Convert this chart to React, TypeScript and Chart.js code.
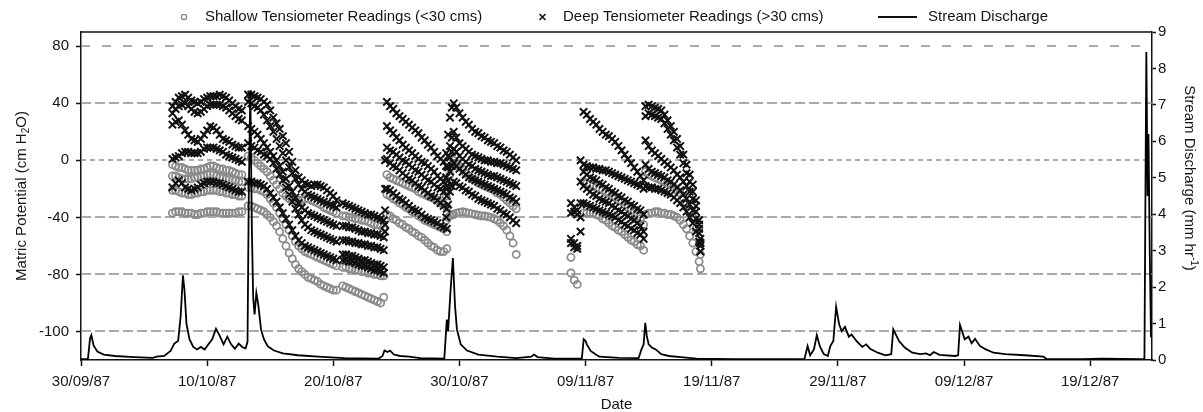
import React, { useEffect, useRef } from 'react';
import { Chart, registerables } from 'chart.js';

Chart.register(...registerables);

// ---------- tick labels ----------
const dateTickDays = [0, 10, 20, 30, 40, 50, 60, 70, 80];
const dateTickLabels = ['30/09/87', '10/10/87', '20/10/87', '30/10/87', '09/11/87', '19/11/87', '29/11/87', '09/12/87', '19/12/87'];
const leftTickValues = [80, 40, 0, -40, -80, -120];
const leftTickLabels = ['80', '40', '0', '-40', '-80', '-100'];
const rightTickValues = [0, 1, 2, 3, 4, 5, 6, 7, 8, 9];
const legendLabels = ['Shallow Tensiometer Readings (<30 cms)', 'Deep Tensiometer Readings (>30 cms)', 'Stream Discharge'];

// ---------- tensiometer readings (days since 30/09/87, cm H2O) ----------
const daysA = [7.25, 7.5, 7.75, 8.0, 8.25, 8.5, 8.75, 9.0, 9.25, 9.5, 9.75, 10.0, 10.25, 10.5, 10.75, 11.0, 11.25, 11.5, 11.75, 12.0, 12.25, 12.5, 12.75];
const deepA = [
  [38, 41, 44, 45, 46, 44, 42, 41, 40, 41, 43, 44, 45, 45, 45, 46, 45, 44, 42, 40, 38, 36, 35],
  [33, 36, 38, 39, 40, 38, 36, 34, 33, 34, 36, 38, 39, 39, 39, 39, 38, 37, 35, 33, 31, 29, 28],
  [25, 27, 28, 25, 21, 18, 15, 14, 13, 15, 18, 21, 24, 23, 21, 18, 15, 14, 13, 11, 10, 9, 9],
  [1, 2, 3, 5, 6, 6, 5, 5, 5, 6, 8, 9, 9, 9, 8, 7, 6, 4, 3, 2, 1, 0, -1],
  [-19, -16, -14, -16, -19, -20, -21, -20, -19, -17, -16, -15, -15, -15, -16, -16, -17, -18, -19, -20, -21, -22, -22],
];
const shallowA = [
  [-3, -4, -5, -5, -6, -7, -7, -7, -7, -6, -6, -5, -4, -4, -5, -6, -6, -7, -7, -8, -9, -10, -10],
  [-11, -11, -12, -13, -13, -13, -13, -12, -12, -11, -11, -10, -10, -10, -11, -12, -12, -13, -13, -14, -14, -15, -15],
  [-21, -21, -22, -23, -23, -24, -24, -23, -23, -22, -22, -21, -21, -21, -21, -22, -22, -23, -23, -24, -24, -25, -25],
  [-37, -36, -36, -36, -37, -37, -37, -38, -38, -37, -37, -36, -36, -36, -36, -37, -37, -37, -37, -37, -37, -36, -36],
];

const daysB = [13.25, 13.5, 13.75, 14.0, 14.25, 14.5, 14.75, 15.0, 15.25, 15.5, 15.75, 16.0, 16.25, 16.5, 16.75, 17.0, 17.25, 17.5, 17.75, 18.0, 18.25, 18.5, 18.75, 19.0, 19.25, 19.5, 19.75, 20.0, 20.25];
const deepB = [
  [46, 46, 45, 44, 43, 41, 39, 35, 30, 26, 22, 17, 12, 6, -1, -7, -12, -14, -16, -17, -18, -17, -17, -18, -19, -21, -23, -25, -28],
  [41, 40, 38, 37, 35, 32, 28, 24, 20, 15, 10, 5, 0, -5, -9, -13, -17, -20, -22, -24, -25, -26, -27, -28, -29, -30, -31, -32, -33],
  [24, 22, 20, 18, 15, 12, 9, 6, 3, 0, -4, -8, -13, -18, -22, -26, -30, -33, -35, -37, -38, -39, -40, -41, -42, -43, -44, -45, -46],
  [12, 10, 9, 7, 6, 4, 3, 1, -2, -6, -10, -14, -19, -24, -29, -34, -38, -42, -45, -47, -49, -50, -51, -52, -53, -54, -55, -56, -57],
  [-15, -15, -16, -16, -17, -18, -20, -23, -26, -29, -33, -37, -41, -45, -49, -53, -56, -58, -60, -61, -62, -63, -64, -65, -66, -67, -68, -69, -70],
];
const shallowB = [
  [3, 2, 0, -2, -4, -6, -8, -11, -14, -17, -20, -23, -25, -27, -28, -28, -28, -28, -27, -27, -28, -29, -30, -31, -33, -34, -35, -36, -37],
  [-19, -19, -20, -20, -21, -22, -24, -27, -30, -33, -37, -41, -45, -49, -53, -57, -60, -62, -64, -65, -66, -67, -68, -69, -70, -71, -72, -73, -74],
  [-32, -32, -33, -34, -35, -36, -38, -40, -43, -46, -50, -55, -60, -65, -69, -73, -76, -78, -80, -82, -83, -84, -85, -87, -88, -89, -90, -91, -91],
];

const daysC = [20.75, 21.0, 21.25, 21.5, 21.75, 22.0, 22.25, 22.5, 22.75, 23.0, 23.25, 23.5, 23.75, 24.0];
const deepC = [
  [-30, -31, -32, -33, -34, -35, -36, -37, -38, -38, -39, -40, -41, -42],
  [-46, -46, -47, -47, -48, -49, -50, -50, -51, -51, -52, -52, -53, -54],
  [-56, -56, -57, -57, -58, -58, -59, -59, -60, -60, -61, -61, -62, -63],
  [-66, -66, -67, -67, -68, -69, -70, -70, -71, -72, -73, -73, -74, -75],
  [-70, -70, -71, -71, -72, -73, -74, -74, -75, -76, -77, -77, -78, -79],
];
const shallowC = [
  [-39, -39, -40, -40, -41, -41, -42, -42, -43, -44, -45, -45, -46, -47],
  [-75, -75, -76, -76, -77, -77, -78, -78, -79, -79, -80, -80, -81, -81],
  [-88, -89, -90, -91, -92, -93, -94, -95, -96, -97, -98, -99, -100, -96],
];

const daysD = [24.1, 24.25, 24.5, 24.75, 25.0, 25.25, 25.5, 25.75, 26.0, 26.25, 26.5, 26.75, 27.0, 27.25, 27.5, 27.75, 28.0, 28.25, 28.5, 28.75, 29.0];
const deepD = [
  [0, 41, 38, 36, 33, 31, 29, 27, 25, 23, 21, 19, 16, 14, 11, 9, 6, 3, 1, -1, -4],
  [-20, 24, 21, 19, 16, 14, 11, 9, 7, 5, 3, 1, -1, -2, -4, -6, -8, -11, -13, -15, -18],
  [-35, 9, 7, 6, 4, 2, 0, -1, -3, -5, -7, -8, -10, -12, -14, -15, -17, -19, -20, -22, -25],
  [-45, 1, -2, -4, -5, -7, -9, -11, -13, -14, -16, -18, -19, -21, -23, -25, -26, -28, -30, -32, -34],
  [-50, -20, -21, -23, -25, -27, -28, -30, -32, -34, -35, -36, -38, -40, -41, -42, -43, -44, -46, -47, -48],
];
const shallowD = [
  [null, -10, -12, -13, -14, -15, -16, -17, -18, -19, -20, -22, -23, -24, -25, -26, -27, -28, -30, -31, -33],
  [null, -24, -25, -27, -28, -30, -31, -33, -34, -36, -37, -39, -40, -42, -43, -44, -45, -46, -47, -48, -50],
  [null, -38, -39, -41, -42, -44, -45, -47, -48, -50, -51, -53, -54, -56, -58, -60, -61, -63, -64, -64, -62],
];

const daysE = [28.95, 29.1, 29.25, 29.4, 29.55, 29.75, 30.0, 30.25, 30.5, 30.75, 31.0, 31.25, 31.5, 31.75, 32.0, 32.25, 32.5, 32.75, 33.0, 33.25, 33.5, 33.75, 34.0, 34.25, 34.5];
const deepE = [
  [5, 18, 30, 37, 40, 37, 33, 30, 27, 25, 22, 20, 19, 17, 16, 14, 13, 12, 10, 9, 7, 6, 4, 2, 0],
  [-4, 3, 10, 16, 20, 16, 12, 10, 8, 6, 4, 3, 2, 1, 0, 0, -1, -1, -2, -2, -3, -4, -5, -6, -7],
  [-12, -5, 2, 6, 8, 6, 3, 1, -1, -3, -4, -6, -7, -8, -9, -10, -11, -11, -12, -13, -14, -15, -16, -17, -18],
  [-20, -14, -8, -4, -2, -4, -6, -8, -10, -12, -13, -14, -15, -16, -17, -18, -19, -20, -21, -22, -23, -24, -26, -27, -29],
  [-40, -31, -22, -18, -15, -16, -18, -19, -21, -22, -24, -25, -27, -28, -29, -30, -31, -32, -34, -35, -37, -38, -40, -42, -44],
];
const shallowE = [
  [-25, -18, -10, -4, 0, -2, -4, -6, -9, -11, -13, -14, -16, -17, -18, -19, -20, -21, -23, -24, -26, -28, -30, -32, -34],
  [-42, -40, -39, -38, -38, -37, -36.5, -36, -36.5, -37, -37.5, -38, -38.5, -39, -39, -39.5, -40, -41, -42, -44, -46, -49, -53, -58, -66],
];

const daysF = [38.84, 39.1, 39.34, 39.6, 39.84, 40.1, 40.35, 40.6, 40.85, 41.1, 41.35, 41.6, 41.85, 42.1, 42.35, 42.6, 42.85, 43.1, 43.35, 43.6, 43.85, 44.1, 44.35, 44.6];
const deepF = [
  [-30, -33, -35, 0, 34, 32, 29, 27, 25, 22, 20, 18, 17, 15, 13, 10, 7, 4, 1, -2, -5, -8, -11, -14],
  [-37, -36, -38, -15, -3, -4, -5, -5, -6, -6, -7, -7, -8, -9, -10, -11, -12, -13, -14, -15, -16, -17, -18, -20],
  [-55, -58, -60, -30, -8, -10, -12, -13, -14, -16, -17, -19, -20, -22, -23, -25, -26, -28, -29, -31, -32, -34, -35, -38],
  [-58, -61, -62, -40, -18, -20, -22, -24, -25, -27, -28, -29, -30, -32, -33, -35, -36, -38, -39, -41, -42, -44, -46, -50],
  [null, null, null, -50, -30, -31, -32, -33, -34, -35, -36, -37, -38, -39, -40, -42, -43, -45, -46, -48, -49, -51, -52, -55],
];
const shallowF = [
  [null, null, null, null, -15, -16, -17, -18, -19, -20, -21, -22, -23, -25, -26, -28, -29, -31, -33, -35, -37, -39, -41, -45],
  [-68, null, null, null, null, null, null, null, null, null, null, null, null, null, null, null, null, null, null, null, null, null, null, null],
  [-79, -84, -87, null, -37, -37, -37, -37, -38, -39, -41, -42, -44, -46, -47, -49, -50, -52, -54, -56, -57, -59, -60, -63],
];

const daysG = [44.75, 45.0, 45.25, 45.5, 45.75, 46.0, 46.25, 46.5, 46.75, 47.0, 47.25, 47.5, 47.75, 48.0, 48.25, 48.5, 48.75, 49.0, 49.1];
const deepG = [
  [38, 39, 38, 37, 36, 35, 32, 28, 24, 20, 15, 10, 4, -3, -10, -17, -28, -42, -55],
  [31, 33, 32, 31, 30, 29, 26, 22, 18, 14, 9, 4, -2, -9, -15, -22, -32, -45, -58],
  [14, 10, 7, 5, 3, 1, -1, -3, -5, -7, -10, -12, -15, -18, -22, -27, -36, -48, -58],
  [-3, -6, -8, -9, -10, -11, -12, -14, -15, -17, -19, -21, -24, -27, -31, -35, -41, -51, -60],
  [-18, -19, -19, -20, -20, -21, -22, -23, -24, -26, -28, -30, -33, -36, -40, -44, -50, -57, -64],
];
const shallowG = [
  [-8, -10, -11, -12, -13, -14, -15, -16, -17, -19, -21, -23, -26, -30, -35, -40, -48, -58, -66],
  [-38, -37, -37, -36, -36, -37, -37, -38, -38, -39, -40, -42, -45, -48, -53, -58, -64, -71, -76],
];

// ---------- stream discharge (days since 30/09/87, mm/hr) ----------
const dischargeDays = [
  0, 0.55, 0.72, 0.82, 1.0, 1.3, 1.8, 2.7, 4.2, 5.7, 6.0, 6.6, 7.1, 7.4, 7.7, 7.9, 8.08, 8.2, 8.36, 8.6,
  8.9, 9.2, 9.5, 9.8, 10.1, 10.4, 10.7, 11.0, 11.3, 11.6, 11.9, 12.2, 12.5, 12.8, 13.05, 13.2, 13.3, 13.42, 13.55, 13.65,
  13.76, 13.9, 14.06, 14.27, 14.5, 14.8, 15.3, 16.0, 17.2, 18.8, 20.9, 23.6, 23.9, 24.06, 24.3, 24.5, 24.8, 25.3, 26.0, 26.9,
  28.8, 29.0, 29.1, 29.3, 29.48, 29.65, 29.8, 30.1, 30.6, 31.5, 33.0, 34.5, 35.7, 35.9, 36.2, 37.5, 39.7, 39.85, 40.0, 40.1,
  40.4, 40.9, 41.1, 42.65, 44.2, 44.43, 44.6, 44.73, 44.85, 45.0, 45.25, 45.56, 46.0, 46.6, 47.55, 48.8, 51.8, 54.9, 57.35, 57.6,
  57.8, 58.1, 58.33, 58.57, 58.88, 59.2, 59.4, 59.64, 59.86, 60.1, 60.3, 60.56, 60.87, 61.08, 61.48, 61.94, 62.24, 62.55, 63.16, 63.77,
  64.23, 64.39, 64.85, 65.3, 65.9, 66.53, 66.99, 67.3, 67.6, 68.06, 69.28, 69.53, 69.68, 70.05, 70.35, 70.6, 70.87, 71.27, 71.73, 72.34,
  73.26, 74.8, 76.3, 76.57, 79.4, 80.9, 84.0, 84.3, 84.45, 84.55, 84.62, 84.72, 84.82, 84.9,
];
const dischargeValues = [
  0.02, 0.03, 0.6, 0.68, 0.4, 0.23, 0.15, 0.11, 0.08, 0.06, 0.09, 0.11, 0.25, 0.45, 0.52, 1.2, 2.32, 1.93, 1.0, 0.57,
  0.36, 0.29, 0.36, 0.29, 0.43, 0.57, 0.86, 0.66, 0.43, 0.64, 0.43, 0.31, 0.45, 0.35, 0.32, 0.5, 4.5, 7.4, 3.5, 1.7,
  1.25, 1.84, 1.5, 0.84, 0.57, 0.38, 0.26, 0.18, 0.13, 0.09, 0.05, 0.04, 0.11, 0.26, 0.22, 0.26, 0.15, 0.11, 0.09, 0.05,
  0.04, 1.11, 0.79, 1.93, 2.8, 1.48, 0.84, 0.43, 0.26, 0.15, 0.09, 0.05, 0.09, 0.15, 0.08, 0.04, 0.04, 0.57, 0.52, 0.43,
  0.25, 0.13, 0.09, 0.06, 0.05, 0.29, 0.43, 1.02, 0.66, 0.43, 0.34, 0.29, 0.16, 0.11, 0.08, 0.04, 0.02, 0.02, 0.03, 0.38,
  0.13, 0.29, 0.68, 0.38, 0.16, 0.11, 0.38, 0.52, 1.46, 0.98, 0.79, 0.91, 0.64, 0.7, 0.52, 0.36, 0.43, 0.31, 0.2, 0.13,
  0.16, 0.84, 0.52, 0.34, 0.2, 0.16, 0.18, 0.13, 0.22, 0.14, 0.11, 0.13, 0.96, 0.57, 0.64, 0.46, 0.58, 0.38, 0.29, 0.2,
  0.16, 0.13, 0.09, 0.02, 0.02, 0.04, 0.02, 0.03, 8.45, 4.5, 6.2, 3.0, 0.65, 0.6,
];

// ---------- styling ----------
const FONT = '"Liberation Sans", Arial, Helvetica, sans-serif';
const TEXT = '#151515';
const SHALLOW_COLOR = '#8a8a8a';
const GRID_COLOR = '#8f8f8f';
const gridDashes = [[9, 12], [10, 4], [5, 4], [10, 4], [10, 4], [10, 4]];

type Block = { days: number[]; deep: (number | null)[][]; shallow: (number | null)[][] };

function collect(blocks: Block[], key: 'deep' | 'shallow') {
  const pts: { x: number; y: number }[] = [];
  blocks.forEach((b) => {
    b[key].forEach((trace) => {
      trace.forEach((v, i) => {
        if (v !== null && v !== undefined) pts.push({ x: b.days[i], y: v });
      });
    });
  });
  return pts;
}

function drawRich(ctx: CanvasRenderingContext2D, parts: { t: string; size: number; dy: number }[]) {
  let total = 0;
  parts.forEach((p) => {
    ctx.font = `${p.size}px ${FONT}`;
    total += ctx.measureText(p.t).width;
  });
  let x = -total / 2;
  parts.forEach((p) => {
    ctx.font = `${p.size}px ${FONT}`;
    ctx.fillText(p.t, x, p.dy);
    x += ctx.measureText(p.t).width;
  });
}

const decorPlugin = {
  id: 'decor',
  beforeDatasetsDraw(chart: any) {
    const { ctx, chartArea: a, scales } = chart;
    const y = scales.y;
    ctx.save();
    ctx.strokeStyle = GRID_COLOR;
    ctx.lineWidth = 1.6;
    leftTickValues.forEach((v, i) => {
      const py = Math.round(y.getPixelForValue(v));
      ctx.setLineDash(gridDashes[i]);
      ctx.beginPath();
      ctx.moveTo(a.left, py);
      ctx.lineTo(a.right, py);
      ctx.stroke();
    });
    ctx.restore();
  },
  afterDraw(chart: any) {
    const { ctx, chartArea: a } = chart;
    ctx.save();
    ctx.strokeStyle = '#111';
    ctx.lineWidth = 1.5;
    ctx.beginPath();
    ctx.moveTo(a.left, a.top);
    ctx.lineTo(a.right, a.top);
    ctx.stroke();

    ctx.fillStyle = TEXT;
    ctx.textBaseline = 'middle';
    ctx.textAlign = 'left';

    ctx.save();
    ctx.translate(22, (a.top + a.bottom) / 2);
    ctx.rotate(-Math.PI / 2);
    drawRich(ctx, [
      { t: 'Matric Potential (cm H', size: 15, dy: 0 },
      { t: '2', size: 10, dy: 4 },
      { t: 'O)', size: 15, dy: 0 },
    ]);
    ctx.restore();

    ctx.save();
    ctx.translate(1189, 178);
    ctx.rotate(Math.PI / 2);
    drawRich(ctx, [
      { t: 'Stream Discharge (mm hr', size: 15, dy: 0 },
      { t: '-1', size: 10, dy: -5 },
      { t: ')', size: 15, dy: 0 },
    ]);
    ctx.restore();

    ctx.font = `15px ${FONT}`;
    ctx.textAlign = 'center';
    ctx.textBaseline = 'alphabetic';
    ctx.fillText('Date', (a.left + a.right) / 2, 409);

    ctx.textAlign = 'left';
    ctx.textBaseline = 'middle';
    const ly = 17;
    ctx.strokeStyle = SHALLOW_COLOR;
    ctx.lineWidth = 1.3;
    ctx.beginPath();
    ctx.arc(184, ly, 2.6, 0, Math.PI * 2);
    ctx.stroke();
    ctx.fillText(legendLabels[0], 205, ly);

    ctx.strokeStyle = '#111';
    ctx.lineWidth = 1.6;
    ctx.beginPath();
    ctx.moveTo(539.5, ly - 3);
    ctx.lineTo(545.5, ly + 3);
    ctx.moveTo(545.5, ly - 3);
    ctx.lineTo(539.5, ly + 3);
    ctx.stroke();
    ctx.fillText(legendLabels[1], 563, ly);

    ctx.lineWidth = 2;
    ctx.beginPath();
    ctx.moveTo(878, ly);
    ctx.lineTo(917, ly);
    ctx.stroke();
    ctx.fillText(legendLabels[2], 928, ly);
    ctx.restore();
  },
};

export default function App() {
  const ref = useRef<HTMLCanvasElement>(null);

  useEffect(() => {
    const blocks: Block[] = [
      { days: daysA, deep: deepA, shallow: shallowA },
      { days: daysB, deep: deepB, shallow: shallowB },
      { days: daysC, deep: deepC, shallow: shallowC },
      { days: daysD, deep: deepD, shallow: shallowD },
      { days: daysE, deep: deepE, shallow: shallowE },
      { days: daysF, deep: deepF, shallow: shallowF },
      { days: daysG, deep: deepG, shallow: shallowG },
    ];
    const shallowPts = collect(blocks, 'shallow');
    const deepPts = collect(blocks, 'deep');
    const dischargePts = dischargeDays.map((d, i) => ({ x: d, y: dischargeValues[i] }));

    const tickFont = { family: FONT, size: 15 };

    const chart = new Chart(ref.current as HTMLCanvasElement, {
      type: 'scatter',
      data: {
        datasets: [
          {
            label: legendLabels[0],
            data: shallowPts,
            yAxisID: 'y',
            pointStyle: 'circle',
            pointRadius: 3.6,
            pointBorderWidth: 1.7,
            pointBorderColor: SHALLOW_COLOR,
            pointBackgroundColor: 'rgba(255,255,255,0)',
            borderColor: SHALLOW_COLOR,
            backgroundColor: 'rgba(255,255,255,0)',
            order: 2,
          },
          {
            label: legendLabels[1],
            data: deepPts,
            yAxisID: 'y',
            pointStyle: 'crossRot',
            pointRadius: 5.2,
            pointBorderWidth: 2,
            pointBorderColor: '#111',
            borderColor: '#111',
            order: 1,
          },
          {
            label: legendLabels[2],
            data: dischargePts,
            yAxisID: 'y2',
            showLine: true,
            pointRadius: 0,
            borderColor: '#000',
            borderWidth: 1.8,
            tension: 0,
            order: 0,
          } as any,
        ],
      },
      options: {
        animation: false,
        responsive: false,
        devicePixelRatio: 1,
        events: [],
        layout: { padding: { top: 32, left: 0, right: 0, bottom: 0 } },
        plugins: { legend: { display: false }, tooltip: { enabled: false } },
        scales: {
          x: {
            type: 'linear',
            position: 'bottom',
            min: 0,
            max: 84.9,
            afterBuildTicks: (s: any) => {
              s.ticks = dateTickDays.map((value) => ({ value }));
            },
            afterFit: (s: any) => {
              s.height = 52;
            },
            grid: { drawOnChartArea: false, drawTicks: true, tickLength: 6, tickColor: '#111', tickWidth: 1.5 },
            border: { display: true, color: '#111', width: 1.5 },
            ticks: {
              autoSkip: false,
              maxRotation: 0,
              padding: 7,
              color: TEXT,
              font: tickFont,
              callback: (_v: any, i: number) => dateTickLabels[i],
            },
          },
          y: {
            type: 'linear',
            position: 'left',
            min: -140,
            max: 90,
            afterBuildTicks: (s: any) => {
              s.ticks = leftTickValues.map((value) => ({ value }));
            },
            afterFit: (s: any) => {
              s.width = 81;
            },
            grid: { drawOnChartArea: false, drawTicks: true, tickLength: 5, tickColor: '#111', tickWidth: 1.5 },
            border: { display: true, color: '#111', width: 1.5 },
            ticks: {
              autoSkip: false,
              padding: 7,
              color: TEXT,
              font: tickFont,
              callback: (_v: any, i: number) => leftTickLabels[i],
            },
          },
          y2: {
            type: 'linear',
            position: 'right',
            min: 0,
            max: 9,
            afterBuildTicks: (s: any) => {
              s.ticks = rightTickValues.map((value) => ({ value }));
            },
            afterFit: (s: any) => {
              s.width = 51;
            },
            grid: { drawOnChartArea: false, drawTicks: true, tickLength: 4, tickColor: '#111', tickWidth: 1.5 },
            border: { display: true, color: '#111', width: 1.5 },
            ticks: {
              autoSkip: false,
              padding: 2,
              color: TEXT,
              font: tickFont,
              callback: (v: any) => String(v),
            },
          },
        },
      } as any,
      plugins: [decorPlugin],
    });
    return () => chart.destroy();
  }, []);

  return (
    <div style={{ position: 'absolute', left: 0, top: 0, width: 1203, height: 412, background: '#fff' }}>
      <canvas ref={ref} width={1203} height={412} style={{ display: 'block', width: 1203, height: 412 }} />
    </div>
  );
}
